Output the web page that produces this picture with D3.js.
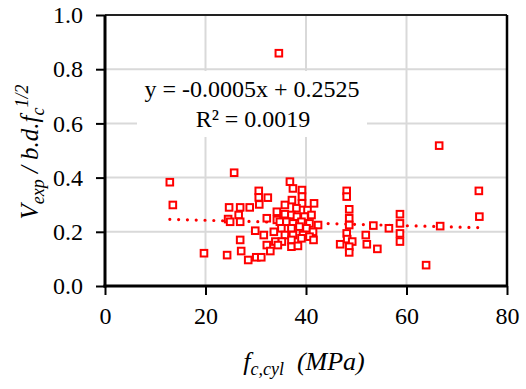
<!DOCTYPE html>
<html>
<head>
<meta charset="utf-8">
<script src="https://cdn.jsdelivr.net/npm/d3@7"></script>
<style>
html,body{margin:0;padding:0;background:#fff;}
svg{display:block;}
</style>
</head>
<body>
<svg id="chart" width="526" height="389"></svg>
<script>
// ---- data ----
const fcValues = [12.9,13.5,19.7,25.7,30.6,30.6,32.4,24.7,26.9,28.8,30.7,34.2,24.5,24.9,26.6,26.9,32.2,34.2,29.9,31.6,33.6,33.9,32.2,26.9,27.1,24.3,28.5,30.1,31.1,32.9,
  36.8,37.4,39.2,39.2,37.2,41.6,35.8,39.2,40.3,38.1,35.8,37.1,38.2,39.7,41.1,34.8,36.1,37.4,39.1,40.7,42.4,35.1,37.1,38.7,40.1,41.4,35.8,37.4,39.4,35.2,37.1,39.1,40.7,37.1,38.4,34.4,
  48.1,48.1,48.6,48.6,48.6,53.4,56.5,58.7,58.7,58.7,58.7,48.1,46.8,48.2,49.2,48.6,48.6,51.9,52.1,54.2,66.7,74.5,63.9,66.5,74.4,34.6,41.5];
const vValues = [0.383,0.299,0.121,0.418,0.351,0.327,0.326,0.290,0.290,0.290,0.301,0.274,0.247,0.237,0.262,0.237,0.250,0.244,0.204,0.188,0.200,0.164,0.151,0.170,0.129,0.114,0.096,0.106,0.106,0.129,
  0.385,0.360,0.354,0.330,0.317,0.305,0.299,0.305,0.280,0.287,0.265,0.262,0.256,0.256,0.262,0.237,0.237,0.231,0.237,0.231,0.225,0.213,0.213,0.219,0.213,0.200,0.188,0.188,0.188,0.164,0.170,0.176,0.182,0.145,0.148,0.151,
  0.351,0.330,0.283,0.250,0.225,0.223,0.213,0.265,0.231,0.194,0.164,0.194,0.154,0.173,0.164,0.145,0.124,0.188,0.154,0.137,0.221,0.256,0.077,0.518,0.351,0.859,0.170];
const xTicks = [0,20,40,60,80];
const yTicks = [0,0.2,0.4,0.6,0.8,1.0];
const trendSlope = -0.0005, trendIntercept = 0.2525;
const eqLine1 = "y = -0.0005x + 0.2525";
const eqLine2 = "R² = 0.0019";

const FONT = "'Liberation Serif', Tinos, 'Times New Roman', Times, 'DejaVu Serif', serif";

// ---- layout ----
const svg = d3.select("#chart").style("font-family", FONT);
const mLeft = 105, mRight = 507, mTop = 15, mBottom = 286;
const x = d3.scaleLinear().domain([0,80]).range([mLeft,mRight]);
const y = d3.scaleLinear().domain([0,1]).range([mBottom,mTop]);

// gridlines
svg.append("g").selectAll("line").data(yTicks.filter(d=>d>0 && d<1)).join("line")
  .attr("x1",mLeft).attr("x2",mRight).attr("y1",d=>y(d)).attr("y2",d=>y(d))
  .attr("stroke","#d9d9d9").attr("stroke-width",2);
svg.append("g").selectAll("line").data(xTicks.filter(d=>d>0 && d<80)).join("line")
  .attr("y1",mTop).attr("y2",mBottom).attr("x1",d=>x(d)).attr("x2",d=>x(d))
  .attr("stroke","#d9d9d9").attr("stroke-width",2);

// frame top / right
svg.append("line").attr("x1",mLeft).attr("x2",mRight).attr("y1",mTop).attr("y2",mTop).attr("stroke","#222").attr("stroke-width",2);
svg.append("line").attr("x1",mRight).attr("x2",mRight).attr("y1",mTop).attr("y2",mBottom).attr("stroke","#000").attr("stroke-width",2.5);

// trendline
const xmin = d3.min(fcValues), xmax = d3.max(fcValues);
svg.append("line")
  .attr("x1",x(xmin)).attr("x2",x(xmax))
  .attr("y1",y(trendSlope*xmin+trendIntercept)).attr("y2",y(trendSlope*xmax+trendIntercept))
  .attr("stroke","#ff0000").attr("stroke-width",3.2).attr("stroke-linecap","round")
  .attr("stroke-dasharray","0,8.8");

// equation label with white background
const eqG = svg.append("g");
eqG.append("rect").attr("x",137).attr("y",71).attr("width",230).attr("height",66).attr("fill","#fff");
eqG.append("text").attr("x",252).attr("y",97).attr("text-anchor","middle").attr("font-family",FONT).attr("font-size",24).text(eqLine1);
eqG.append("text").attr("x",253).attr("y",127).attr("text-anchor","middle").attr("font-family",FONT).attr("font-size",24).text(eqLine2);

// points
const pts = fcValues.map((d,i)=>({fc:d, v:vValues[i]}));
svg.append("g").selectAll("rect").data(pts).join("rect")
  .attr("x",d=>x(d.fc)-3.3).attr("y",d=>y(d.v)-3.3)
  .attr("width",6.6).attr("height",6.6)
  .attr("fill","#fff").attr("stroke","#ff0000").attr("stroke-width",2);

// axes
const xAxis = svg.append("g").attr("transform",`translate(0,${mBottom})`)
  .call(d3.axisBottom(x).tickValues(xTicks).tickSize(9).tickPadding(12).tickFormat(d3.format("d")));
const yAxis = svg.append("g").attr("transform",`translate(${mLeft},0)`)
  .call(d3.axisLeft(y).tickValues(yTicks).tickSize(9).tickPadding(13).tickFormat(d3.format(".1f")));
[xAxis,yAxis].forEach(g=>{
  g.attr("font-family",FONT).attr("font-size",24);
  g.select(".domain").attr("stroke","#000").attr("stroke-width",3);
  g.selectAll(".tick line").attr("stroke","#000").attr("stroke-width",2);
  g.selectAll(".tick text").attr("font-family",FONT).attr("font-size",24).attr("fill","#000");
});
xAxis.select(".domain").attr("d",`M${mLeft-1.5},0H${mRight}`);
yAxis.select(".domain").attr("d",`M0,${mTop}V${mBottom+1.5}`);

// x axis title
const xt = svg.append("text").attr("x",304).attr("y",370).attr("text-anchor","middle")
  .attr("font-family",FONT).attr("font-size",26).attr("font-style","italic").style("white-space","pre");
xt.append("tspan").text("f");
xt.append("tspan").attr("font-size",18).attr("dy",5).text("c,cyl");
xt.append("tspan").attr("dy",-5).text("  (MPa)");

// y axis title
const yt = svg.append("text").attr("transform","translate(38,152) rotate(-90)").attr("text-anchor","middle")
  .attr("font-family",FONT).attr("font-size",25).attr("font-style","italic").style("white-space","pre");
yt.append("tspan").text("V");
yt.append("tspan").attr("font-size",18).attr("dy",6).text("exp");
yt.append("tspan").attr("dy",-6).text(" / b.d.f");
yt.append("tspan").attr("font-size",18).attr("dy",6).text("c");
yt.append("tspan").attr("font-size",18).attr("dy",-16).text("1/2");
</script>
</body>
</html>
